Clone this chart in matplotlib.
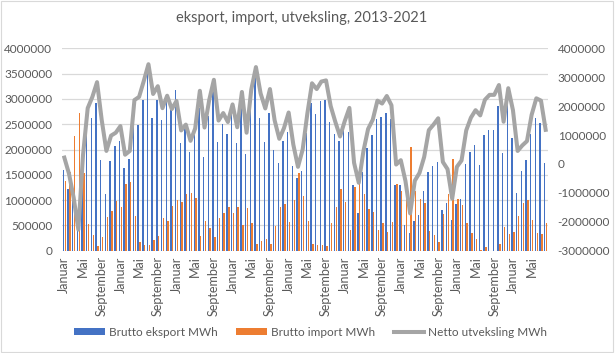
import matplotlib
matplotlib.use("Agg")
import matplotlib.pyplot as plt
import numpy as np
from matplotlib.patches import Rectangle

# Monthly values, Jan 2013 - Aug 2021, in thousand MWh
MONTHS = ["Januar", "Februar", "Mars", "April", "Mai", "Juni", "Juli",
          "August", "September", "Oktober", "November", "Desember"]
N_MONTHS = 104

export_k = [
    1600, 1220, 1100, 450, 1850, 2450, 2630, 2920, 1790, 1120, 1770, 2060,
    2170, 1640, 1810, 2900, 2490, 2980, 3560, 2630, 2980, 2580, 2950, 2780,
    3180, 2130, 2480, 1950, 2280, 2820, 1850, 2660, 3180, 2150, 2500, 2310,
    2800, 2130, 3000, 1920, 3120, 3480, 2630, 2150, 2720, 1990, 1730, 2160,
    2350, 1670, 1440, 1580, 2330, 2920, 2700, 2960, 2980, 2550, 2310, 2170,
    2450, 2350, 1300, 750, 1560, 2030, 2290, 2600, 2640, 2720, 2600, 1300,
    1300, 510, 340, 590, 710, 1180, 1560, 1670, 1750, 800, 940, 610,
    920, 1020, 1710, 1950, 2090, 1690, 2290, 2390, 2390, 2860, 1930, 2950,
    2230, 1140, 1580, 1790, 2300, 2620, 2520, 1730,
]
import_k = [
    1380, 1560, 2270, 2720, 1540, 520, 310, 90, 270, 670, 790, 980,
    860, 1320, 1360, 690, 170, 110, 110, 210, 290, 650, 590, 880,
    1000, 970, 1120, 1150, 1050, 290, 590, 450, 270, 650, 740, 860,
    740, 860, 510, 840, 550, 130, 190, 230, 130, 480, 860, 920,
    570, 1000, 1540, 1080, 590, 130, 110, 110, 90, 550, 860, 1220,
    970, 410, 1260, 1400, 1120, 820, 760, 410, 550, 370, 570, 1320,
    1170, 1100, 2050, 1170, 1020, 940, 390, 310, 170, 730, 1120, 1810,
    1020, 900, 550, 350, 230, 10, 70, 0, 0, 130, 470, 330,
    370, 690, 940, 1000, 600, 350, 330, 550,
]
net_k = [
    220, -340, -1170, -2270, 310, 1930, 2320, 2830, 1520, 450, 980, 1080,
    1310, 320, 450, 2210, 2320, 2870, 3450, 2420, 2690, 1930, 2360, 1900,
    2180, 1160, 1360, 800, 1230, 2530, 1260, 2210, 2910, 1500, 1760, 1450,
    2060, 1270, 2490, 1080, 2570, 3350, 2440, 1920, 2590, 1510, 870, 1240,
    1780, 670, -100, 500, 1740, 2790, 2590, 2850, 2890, 2000, 1450, 950,
    1480, 1940, 40, -650, 440, 1210, 1530, 2190, 2090, 2350, 2030, -20,
    130, -590, -1710, -580, -310, 240, 1170, 1360, 1580, 70, -180, -1200,
    -100, 120, 1160, 1600, 1860, 1680, 2220, 2390, 2390, 2730, 1460, 2620,
    1860, 450, 640, 790, 1700, 2270, 2190, 1180,
]

BLUE = "#4472C4"
ORANGE = "#ED7D31"
GREY = "#A5A5A5"
TEXT = "#595959"

plt.rcParams["font.family"] = ["Lato", "DejaVu Sans"]

export_mwh = np.array(export_k) * 1000
import_mwh = np.array(import_k) * 1000
net_mwh = np.array(net_k) * 1000
labels = [MONTHS[i % 12] for i in range(N_MONTHS)]
x = np.arange(N_MONTHS)

fig = plt.figure(figsize=(6.15, 3.53), dpi=100)
ax = fig.add_axes([62 / 615, 1 - 250.7 / 353, (548 - 62) / 615, (250.7 - 48.3) / 353])
ax2 = ax.twinx()

ax.bar(x - 0.2, export_mwh, width=0.3, color=BLUE, label="Brutto eksport MWh", zorder=2)
ax.bar(x + 0.2, import_mwh, width=0.3, color=ORANGE, label="Brutto import MWh", zorder=2)
ax2.plot(x, net_mwh, color=GREY, linewidth=2.9, solid_joinstyle="round",
         label="Netto utveksling MWh")

ax.set_xlim(-0.5, N_MONTHS - 0.5)
ax.set_ylim(0, 4000000)
ax.set_yticks(np.arange(0, 4000001, 500000))
ax2.set_ylim(-3000000, 4000000)
ax2.set_yticks(np.arange(-3000000, 4000001, 1000000))

ax.set_xticks(x[::4])
ax.set_xticklabels(labels[::4], rotation=90, ha="center", va="top")

ax.grid(axis="y", color="#D9D9D9", linewidth=0.9, zorder=0)
ax.set_axisbelow(True)
for a in (ax, ax2):
    for s in a.spines.values():
        s.set_visible(False)
    a.tick_params(length=0, colors=TEXT, labelsize=8.5)
ax.tick_params(axis="y", pad=7)
ax2.tick_params(axis="y", pad=7)
ax.tick_params(axis="x", pad=4, labelsize=9)

ax.yaxis.set_major_formatter(matplotlib.ticker.FuncFormatter(lambda v, p: f"{int(v)}"))
ax2.yaxis.set_major_formatter(matplotlib.ticker.FuncFormatter(lambda v, p: f"{int(v)}"))

fig.text(0.49, 1 - 18 / 353, "eksport, import, utveksling, 2013-2021",
         ha="center", va="center", fontsize=10.5, color=TEXT)

h1, l1 = ax.get_legend_handles_labels()
h2, l2 = ax2.get_legend_handles_labels()
leg = fig.legend(h1 + h2, l1 + l2, loc="center", bbox_to_anchor=(0.505, 1 - 332 / 353),
                 ncol=3, frameon=False, fontsize=8.5, handlelength=2.6,
                 handleheight=0.6, columnspacing=1.6, handletextpad=0.3)
for t in leg.get_texts():
    t.set_color(TEXT)

fig.patches.append(Rectangle((0.002, 0.003), 0.995, 0.994, transform=fig.transFigure,
                             fill=False, edgecolor="#D9D9D9", linewidth=0.8))

fig.savefig("out.png", dpi=100)
